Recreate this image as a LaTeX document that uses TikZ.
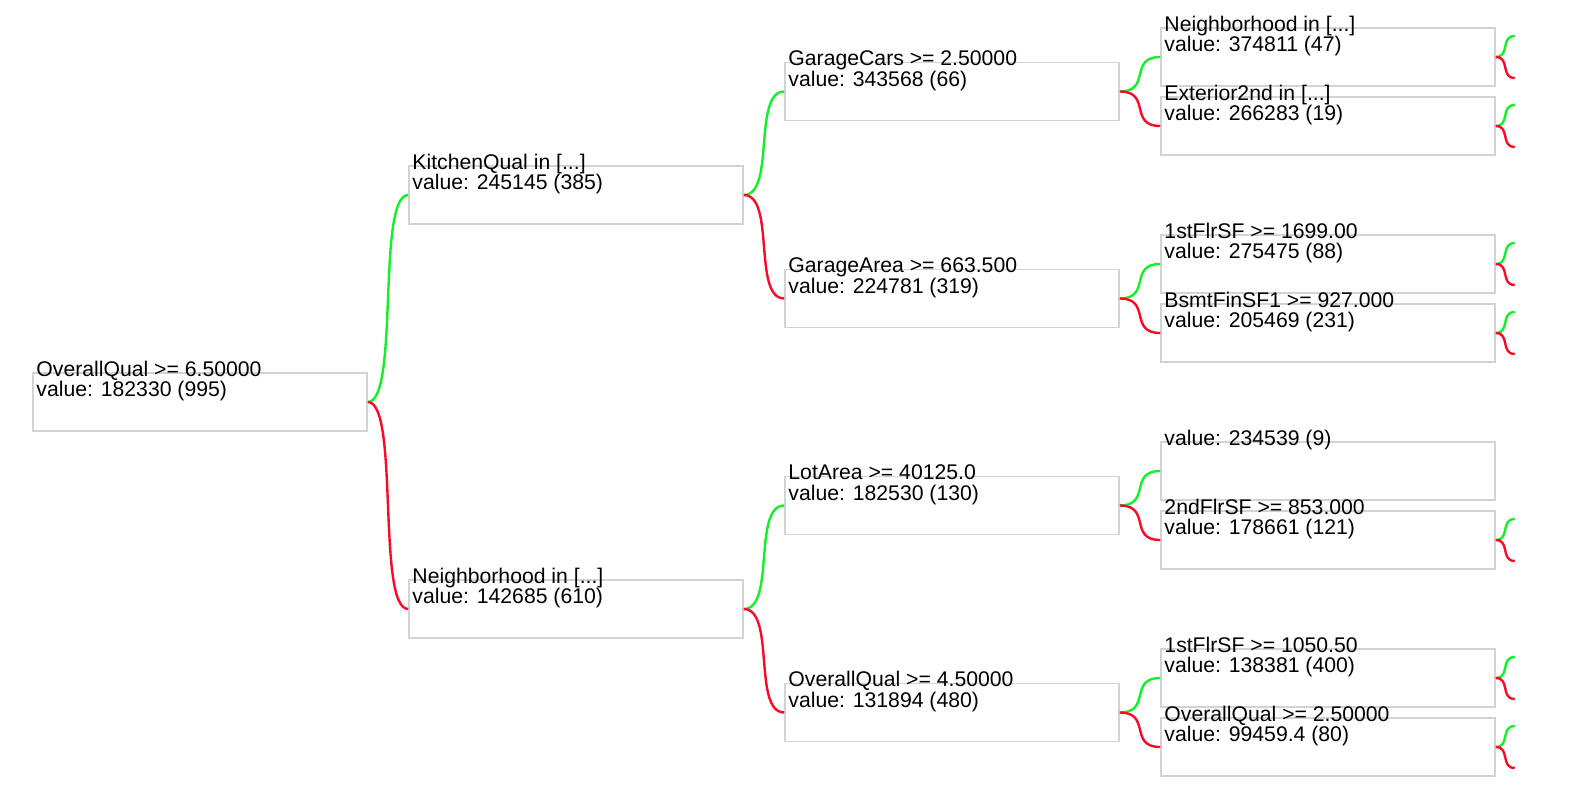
\documentclass[tikz,border=0pt]{standalone}
\usepackage{fontspec}
\setmainfont{Liberation Sans}

\definecolor{boxgray}{RGB}{211,211,211}
\definecolor{yesgreen}{RGB}{20,240,40}
\definecolor{nored}{RGB}{250,10,40}

\tikzset{
    treebox/.style={draw=boxgray, line width=1.5pt, rectangle, minimum width=334pt, minimum height=58pt, inner sep=0pt},
    boxtext/.style={anchor=base west, align=left, inner sep=0pt, font=\fontsize{21.2}{20.6}\selectfont},
    yes/.style={yesgreen, line width=2.4pt},
    no/.style={nored, line width=2.4pt}
}

\begin{document}
\begin{tikzpicture}[x=1pt, y=-1pt]
        % Fix the page size
        \useasboundingbox (0,0) rectangle (1582,789);

        % Boxes of the tree, one column per level
        \node[treebox] (root) at (200, 402) {};

        \node[treebox] (kitchen) at (576, 195) {};
        \node[treebox] (hood) at (576, 609) {};

        \node[treebox] (garcars) at (952, 91.5) {};
        \node[treebox] (gararea) at (952, 298.5) {};
        \node[treebox] (lotarea) at (952, 505.5) {};
        \node[treebox] (qual) at (952, 712.5) {};

        \node[treebox] (hoodb) at (1328, 57) {};
        \node[treebox] (ext) at (1328, 126) {};
        \node[treebox] (flra) at (1328, 264) {};
        \node[treebox] (bsmt) at (1328, 333) {};
        \node[treebox] (leaf) at (1328, 471) {};
        \node[treebox] (flrtwo) at (1328, 540) {};
        \node[treebox] (flrb) at (1328, 678) {};
        \node[treebox] (qualb) at (1328, 747) {};

        % Links between parent and children
        \foreach \a/\b/\c in {root/kitchen/yes, root/hood/no,
                kitchen/garcars/yes, kitchen/gararea/no, hood/lotarea/yes, hood/qual/no,
                garcars/hoodb/yes, garcars/ext/no, gararea/flra/yes, gararea/bsmt/no,
                lotarea/leaf/yes, lotarea/flrtwo/no, qual/flrb/yes, qual/qualb/no}
            \draw[\c] (\a.east) .. controls +(32,0) and +(-32,0) .. (\b.west);

        % Short links of the last column
        \foreach \a in {hoodb, ext, flra, bsmt, flrtwo, flrb, qualb} {
            \coordinate (\a-up) at ([shift={(19,-21)}]\a.east);
            \coordinate (\a-down) at ([shift={(19,21)}]\a.east);
            \draw[yes] (\a.east) .. controls +(14.5,0) and +(-14.5,0) .. (\a-up);
            \draw[no] (\a.east) .. controls +(14.5,0) and +(-14.5,0) .. (\a-down);
        }

        % Texts on the boxes (base is the last line)
        \node[boxtext] (root-t) at ([shift={(4,24.6)}]root.north west) {OverallQual >= 6.50000\\value: 182330 (995)};
        \node[boxtext] (kitchen-t) at ([shift={(4,24.6)}]kitchen.north west) {KitchenQual in [...]\\value: 245145 (385)};
        \node[boxtext] (hood-t) at ([shift={(4,24.6)}]hood.north west) {Neighborhood in [...]\\value: 142685 (610)};
        \node[boxtext] (garcars-t) at ([shift={(4,24.6)}]garcars.north west) {GarageCars >= 2.50000\\value: 343568 (66)};
        \node[boxtext] (gararea-t) at ([shift={(4,24.6)}]gararea.north west) {GarageArea >= 663.500\\value: 224781 (319)};
        \node[boxtext] (lotarea-t) at ([shift={(4,24.6)}]lotarea.north west) {LotArea >= 40125.0\\value: 182530 (130)};
        \node[boxtext] (qual-t) at ([shift={(4,24.6)}]qual.north west) {OverallQual >= 4.50000\\value: 131894 (480)};
        \node[boxtext] (hoodb-t) at ([shift={(4,24.6)}]hoodb.north west) {Neighborhood in [...]\\value: 374811 (47)};
        \node[boxtext] (ext-t) at ([shift={(4,24.6)}]ext.north west) {Exterior2nd in [...]\\value: 266283 (19)};
        \node[boxtext] (flra-t) at ([shift={(4,24.6)}]flra.north west) {1stFlrSF >= 1699.00\\value: 275475 (88)};
        \node[boxtext] (bsmt-t) at ([shift={(4,24.6)}]bsmt.north west) {BsmtFinSF1 >= 927.000\\value: 205469 (231)};
        \node[boxtext] (leaf-t) at ([shift={(4,4)}]leaf.north west) {value: 234539 (9)};
        \node[boxtext] (flrtwo-t) at ([shift={(4,24.6)}]flrtwo.north west) {2ndFlrSF >= 853.000\\value: 178661 (121)};
        \node[boxtext] (flrb-t) at ([shift={(4,24.6)}]flrb.north west) {1stFlrSF >= 1050.50\\value: 138381 (400)};
        \node[boxtext] (qualb-t) at ([shift={(4,24.6)}]qualb.north west) {OverallQual >= 2.50000\\value: 99459.4 (80)};
    \end{tikzpicture}
\end{document}
